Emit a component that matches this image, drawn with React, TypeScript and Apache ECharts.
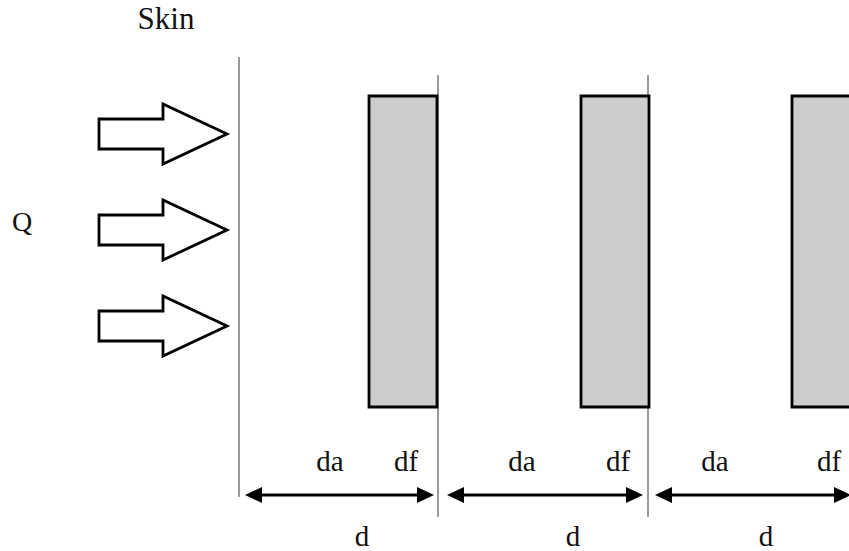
import React, { useEffect, useRef } from "react";
import * as echarts from "echarts";

// Diagram read in axis units (0..849 horizontally, 0..551 vertically, top-down)
const boundaryLines = [
  [239, 57, 497],
  [438, 75, 517],
  [648, 75, 517],
];
const fiberLayers = [
  [369, 437, 96, 407],
  [581, 649, 96, 407],
  [792, 866, 96, 407],
];
const heatArrows = [
  [99, 163, 227, 134],
  [99, 163, 227, 230],
  [99, 163, 227, 326],
];
const dimensionArrows = [
  [245, 434, 495],
  [447, 643, 495],
  [655, 851, 495],
];
const labelTexts = ["Skin", "Q", "da", "df", "da", "df", "da", "df", "d", "d", "d"];
const labelPositions = [
  [166, 18],
  [22, 221],
  [330, 461],
  [406, 461],
  [522, 461],
  [618, 461],
  [715, 461],
  [829, 461],
  [362, 536],
  [573, 536],
  [766, 536],
];
const labelSizes = [31, 28, 29, 29, 29, 29, 29, 29, 29, 29, 29];

const FONT = "Liberation Serif";

export default function App() {
  const ref = useRef<HTMLDivElement>(null);
  useEffect(() => {
    document.body.style.margin = "0";
    if (!ref.current) return;
    const chart = echarts.init(ref.current, undefined, { renderer: "svg" });
    chart.setOption({
      animation: false,
      backgroundColor: "#ffffff",
      grid: { left: 0, right: 0, top: 0, bottom: 0 },
      xAxis: { type: "value", min: 0, max: 849, show: false },
      yAxis: { type: "value", min: 0, max: 551, inverse: true, show: false },
      series: [
        {
          type: "custom",
          coordinateSystem: "cartesian2d",
          data: boundaryLines,
          encode: { x: 0, y: 1 },
          silent: true,
          renderItem: (params: any, api: any) => {
            const a = api.coord([api.value(0), api.value(1)]);
            const b = api.coord([api.value(0), api.value(2)]);
            return {
              type: "line",
              shape: { x1: a[0], y1: a[1], x2: b[0], y2: b[1] },
              style: { stroke: "#8f8f8f", lineWidth: 1.8 },
            };
          },
        },
        {
          type: "custom",
          coordinateSystem: "cartesian2d",
          data: fiberLayers,
          encode: { x: 0, y: 2 },
          silent: true,
          renderItem: (params: any, api: any) => {
            const a = api.coord([api.value(0), api.value(2)]);
            const b = api.coord([api.value(1), api.value(3)]);
            return {
              type: "rect",
              shape: { x: a[0], y: a[1], width: b[0] - a[0], height: b[1] - a[1] },
              style: { fill: "#cccccc", stroke: "#000000", lineWidth: 2.8 },
            };
          },
        },
        {
          type: "custom",
          coordinateSystem: "cartesian2d",
          data: heatArrows,
          encode: { x: 0, y: 3 },
          silent: true,
          renderItem: (params: any, api: any) => {
            const tail = api.coord([api.value(0), api.value(3)]);
            const neck = api.coord([api.value(1), api.value(3)]);
            const tip = api.coord([api.value(2), api.value(3)]);
            const cy = tip[1];
            const sh = 15;
            const hh = 30;
            return {
              type: "polygon",
              shape: {
                points: [
                  [tail[0], cy - sh],
                  [neck[0], cy - sh],
                  [neck[0], cy - hh],
                  [tip[0], cy],
                  [neck[0], cy + hh],
                  [neck[0], cy + sh],
                  [tail[0], cy + sh],
                ],
              },
              style: { fill: "#ffffff", stroke: "#000000", lineWidth: 2.8, lineJoin: "miter" },
            };
          },
        },
        {
          type: "custom",
          coordinateSystem: "cartesian2d",
          data: dimensionArrows,
          encode: { x: 0, y: 2 },
          silent: true,
          renderItem: (params: any, api: any) => {
            const a = api.coord([api.value(0), api.value(2)]);
            const b = api.coord([api.value(1), api.value(2)]);
            const y = a[1];
            const hl = 17;
            const hw = 8;
            return {
              type: "group",
              children: [
                {
                  type: "line",
                  shape: { x1: a[0] + hl - 2, y1: y, x2: b[0] - hl + 2, y2: y },
                  style: { stroke: "#000000", lineWidth: 3 },
                },
                {
                  type: "polygon",
                  shape: { points: [[a[0], y], [a[0] + hl, y - hw], [a[0] + hl, y + hw]] },
                  style: { fill: "#000000" },
                },
                {
                  type: "polygon",
                  shape: { points: [[b[0], y], [b[0] - hl, y - hw], [b[0] - hl, y + hw]] },
                  style: { fill: "#000000" },
                },
              ],
            };
          },
        },
        {
          type: "custom",
          coordinateSystem: "cartesian2d",
          data: labelPositions,
          encode: { x: 0, y: 1 },
          silent: true,
          renderItem: (params: any, api: any) => {
            const p = api.coord([api.value(0), api.value(1)]);
            return {
              type: "text",
              x: p[0],
              y: p[1],
              style: {
                text: labelTexts[params.dataIndex],
                font: labelSizes[params.dataIndex] + "px " + FONT,
                fill: "#111111",
                align: "center",
                verticalAlign: "middle",
              },
            };
          },
        },
      ],
    });
    return () => chart.dispose();
  }, []);
  return <div ref={ref} style={{ width: 849, height: 551 }} />;
}
